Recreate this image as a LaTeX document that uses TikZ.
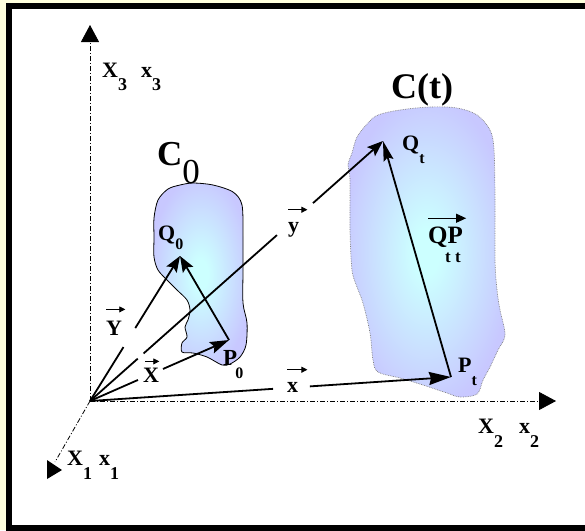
\documentclass[tikz,border=0pt]{standalone}
\usepackage{fontspec}
\setmainfont{Liberation Serif}
\usetikzlibrary{arrows.meta}
\definecolor{cream}{RGB}{255,255,221}
\definecolor{lav}{RGB}{200,200,255}
\definecolor{cyl}{RGB}{204,255,255}
\pgfdeclareradialshading{blobshade}{\pgfpoint{0bp}{0bp}}{color(0bp)=(cyl); color(4bp)=(cyl); color(27bp)=(lav); color(50bp)=(lav)}
\newcommand\fsz[1]{\fontsize{#1}{#1}\selectfont}
\tikzset{
  lab/.style={inner sep=0pt, anchor=base west},
  axisline/.style={line width=0.8pt, dash pattern=on 5pt off 2pt on 1pt off 2pt},
  axtip/.style={-{Triangle[length=17pt,width=18pt]}},
  vec/.style={line width=1.8pt},
  vtip/.style={-{Stealth[length=16pt,width=12pt,inset=3pt]}},
  bigtip/.style={-{Stealth[length=22pt,width=13pt,inset=2pt]}},
  vecmark/.style={line width=0.9pt, -{Triangle[length=6pt,width=6pt]}},
  body/.style={shading=blobshade}
}
\begin{document}
\begin{tikzpicture}[x=1pt,y=1pt]
\useasboundingbox (0,0) rectangle (585,-530);
\clip (0,0) rectangle (585,-530);
\fill[cream] (0,0) rectangle (585,-530);
\draw[line width=6pt, fill=white] (9,-6) rectangle (592,-528);

% bodies
\shade[body, draw=gray, densely dotted, line width=0.7pt] plot[smooth cycle, tension=0.55] coordinates {
 (378,-115) (400,-110) (430,-107) (457,-108) (477,-115) (490,-130) (494,-150)
 (495,-200) (495,-260) (497,-290) (500,-310) (505,-335) (498,-350) (490,-367)
 (483,-380) (477,-394) (460,-397) (447,-393) (423,-385) (400,-378) (378,-372)
 (373,-360) (370,-333) (363,-303) (357,-287) (352,-270) (350,-230) (350,-180)
 (348,-165) (352,-153) (357,-137) (368,-123)};
\shade[body, draw=black, line width=0.8pt] plot[smooth cycle, tension=0.5] coordinates {
 (180,-185) (193,-183) (213,-185) (233,-192) (242,-205) (243,-237) (243,-270)
 (243,-303) (247,-323) (246,-345) (240,-357) (230,-364) (222,-365) (207,-357)
 (193,-353) (182,-352) (182,-343) (187,-337) (185,-327) (188,-320) (190,-310)
 (187,-300) (177,-290) (167,-280) (158,-270) (154,-257) (154,-237) (154,-218)
 (158,-200) (168,-189)};

% points
\coordinate (O) at (90,-401);
\coordinate (Q0) at (180,-256);
\coordinate (P0) at (229,-340);
\coordinate (Qt) at (383,-141);
\coordinate (Pt) at (451,-377);
\coordinate (X3e) at (90,-25);
\coordinate (X2e) at (556,-401);
\coordinate (X1e) at (55,-462);

% axes
\draw[axisline, axtip] (O) -- (X3e);
\draw[axisline, axtip] (O) -- (X2e);
\draw[axisline] (O) -- (X1e);
\fill (47,-460) -- (62,-470) -- (47,-479) -- cycle;

% vectors with gaps for labels
\path (O) -- coordinate[pos=0.372] (Ya) coordinate[pos=0.503] (Yb) (Q0);
\draw[vec] (O) -- (Ya);
\draw[vec, vtip] (Yb) -- (Q0);

\path (O) -- coordinate[pos=0.163] (ya) coordinate[pos=0.183] (yb)
             coordinate[pos=0.638] (yc) coordinate[pos=0.761] (yd) (Qt);
\draw[vec] (O) -- (ya);
\draw[vec] (yb) -- (yc);
\draw[vec, vtip] (yd) -- (Qt);

\path (O) -- coordinate[pos=0.345] (Xa) coordinate[pos=0.525] (Xb) (P0);
\draw[vec] (O) -- (Xa);
\draw[vec, -{Stealth[length=19pt,width=12pt,inset=3pt]}] (Xb) -- (P0);

\path (O) -- coordinate[pos=0.507] (xa) coordinate[pos=0.609] (xb) (Pt);
\draw[vec] (O) -- (xa);
\draw[vec, bigtip] (xb) -- (Pt);

\draw[vec, vtip] (P0) -- (Q0);
\draw[vec, -{Stealth[length=20pt,width=10pt,inset=3pt]}] (Pt) -- (Qt);

% labels
\node[lab, font=\bfseries\fsz{22}] (lX3) at (102,-77) {X\raisebox{-13pt}{\fsz{18}3}\hspace{14pt}x\raisebox{-13pt}{\fsz{18}3}};
\node[lab, font=\bfseries\fsz{22}] (lX1) at (67,-465) {X\raisebox{-14pt}{\fsz{18}1}\hspace{7pt}x\raisebox{-14pt}{\fsz{18}1}};
\node[lab, font=\bfseries\fsz{22}] (lX2) at (478,-433) {X\raisebox{-14pt}{\fsz{18}2}\hspace{16pt}x\raisebox{-14pt}{\fsz{18}2}};

\node[lab, font=\bfseries\fsz{35}] (lC0) at (157,-165) {C\raisebox{-18pt}{\mdseries 0}};
\node[lab, font=\bfseries\fsz{36}] (lCt) at (391,-98) {C(t)};

\node[lab, font=\bfseries\fsz{22}] (lQt) at (402,-150) {Q\raisebox{-13pt}{\fsz{16}t}};
\node[lab, font=\bfseries\fsz{22}] (lQ0) at (158,-240) {Q\raisebox{-9pt}{\fsz{16}0}};
\node[lab, font=\bfseries\fsz{23}] (lP0) at (223,-365) {P\raisebox{-13pt}{\kern-2pt\fsz{16}0}};
\node[lab, font=\bfseries\fsz{22}] (lPt) at (458,-372) {P\raisebox{-13pt}{\fsz{16}t}};

\node[lab, font=\bfseries\fsz{25}] (lQP) at (428,-243) {QP};
\node[lab, font=\bfseries\fsz{17}] (lQPs) at (445,-262) {t t};
\draw[line width=1pt, -{Triangle[length=10pt,width=9pt]}] ([yshift=8pt]lQP.north west) -- ([xshift=3pt,yshift=8pt]lQP.north east);

\node[lab, font=\bfseries\fsz{22}] (lY) at (106,-335) {Y};
\draw[vecmark] ([yshift=11pt]lY.north west) -- ([xshift=3pt,yshift=11pt]lY.north east);
\node[lab, font=\bfseries\fsz{22}] (lX) at (143,-382) {X};
\draw[vecmark] ([xshift=2pt,yshift=6pt]lX.north west) -- ([yshift=6pt]lX.north east);
\node[lab, font=\bfseries\fsz{22}] (ly) at (288,-232) {y};
\draw[vecmark] ([yshift=12pt]ly.north west) -- ([xshift=8pt,yshift=12pt]ly.north east);
\node[lab, font=\bfseries\fsz{22}] (lx) at (287,-392) {x};
\draw[vecmark] ([yshift=12pt]lx.north west) -- ([xshift=9pt,yshift=12pt]lx.north east);
\end{tikzpicture}
\end{document}
